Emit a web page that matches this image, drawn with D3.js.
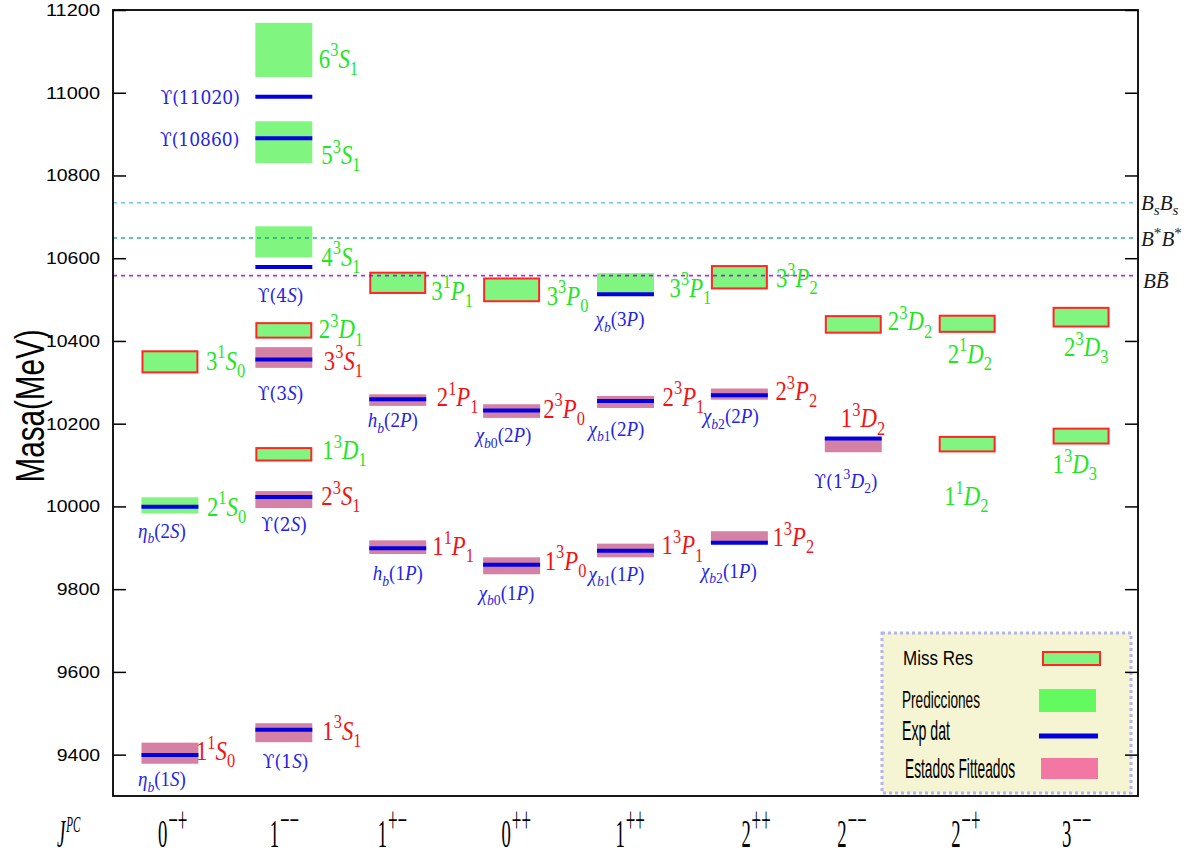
<!DOCTYPE html>
<html>
<head>
<meta charset="utf-8">
<script src="https://cdn.jsdelivr.net/npm/d3@7"></script>
<style>
  body { margin: 0; background: #fff; }
  svg { display: block; }
</style>
</head>
<body>
<svg id="chart" width="1203" height="858"></svg>
<script>
// ---- J^PC columns -------------------------------------------------------
const jpcBase = ["0", "1", "1", "0", "1", "2", "2", "2", "3"];
const jpcSup  = ["−+", "−−", "+−", "++", "++", "++", "−−", "−+", "−−"];
const jpcKeys = jpcBase.map((b, i) => b + jpcSup[i]);

// ---- mass axis ticks (MeV) -------------------------------------------------
const yTicks = [9400, 9600, 9800, 10000, 10200, 10400, 10600, 10800, 11000, 11200];

// ---- model predictions only (mass band, MeV) --------------------------------
const predictedStates = [
  { jpc: "0−+", name: "2^{1}S_{0}", lo: 9983,  hi: 10022 },
  { jpc: "1−−", name: "4^{3}S_{1}", lo: 10602, hi: 10677 },
  { jpc: "1−−", name: "5^{3}S_{1}", lo: 10830, hi: 10931 },
  { jpc: "1−−", name: "6^{3}S_{1}", lo: 11038, hi: 11169 },
  { jpc: "1++", name: "3^{3}P_{1}", lo: 10516, hi: 10564 }
];

// ---- missing resonances (predicted, not observed) ---------------------------
const missingStates = [
  { jpc: "0−+", name: "3^{1}S_{0}", lo: 10324, hi: 10375 },
  { jpc: "1−−", name: "2^{3}D_{1}", lo: 10408, hi: 10443 },
  { jpc: "1−−", name: "1^{3}D_{1}", lo: 10111, hi: 10141 },
  { jpc: "1+−", name: "3^{1}P_{1}", lo: 10516, hi: 10565 },
  { jpc: "0++", name: "3^{3}P_{0}", lo: 10496, hi: 10551 },
  { jpc: "2++", name: "3^{3}P_{2}", lo: 10527, hi: 10581 },
  { jpc: "2−−", name: "2^{3}D_{2}", lo: 10420, hi: 10460 },
  { jpc: "2−+", name: "2^{1}D_{2}", lo: 10422, hi: 10461 },
  { jpc: "2−+", name: "1^{1}D_{2}", lo: 10133, hi: 10168 },
  { jpc: "3−−", name: "2^{3}D_{3}", lo: 10435, hi: 10480 },
  { jpc: "3−−", name: "1^{3}D_{3}", lo: 10152, hi: 10188 }
];

// ---- states used in the fit ---------------------------------------------------
const fittedStates = [
  { jpc: "0−+", name: "1^{1}S_{0}", lo: 9378,  hi: 9429 },
  { jpc: "1−−", name: "1^{3}S_{1}", lo: 9430,  hi: 9476 },
  { jpc: "1−−", name: "2^{3}S_{1}", lo: 9996,  hi: 10037 },
  { jpc: "1−−", name: "3^{3}S_{1}", lo: 10335, hi: 10385 },
  { jpc: "1+−", name: "1^{1}P_{1}", lo: 9885,  hi: 9918 },
  { jpc: "1+−", name: "2^{1}P_{1}", lo: 10243, hi: 10271 },
  { jpc: "0++", name: "1^{3}P_{0}", lo: 9836,  hi: 9877 },
  { jpc: "0++", name: "2^{3}P_{0}", lo: 10214, hi: 10247 },
  { jpc: "1++", name: "1^{3}P_{1}", lo: 9877,  hi: 9910 },
  { jpc: "1++", name: "2^{3}P_{1}", lo: 10238, hi: 10267 },
  { jpc: "2++", name: "1^{3}P_{2}", lo: 9911,  hi: 9940 },
  { jpc: "2++", name: "2^{3}P_{2}", lo: 10258, hi: 10285 },
  { jpc: "2−−", name: "1^{3}D_{2}", lo: 10131, hi: 10164 }
];

// ---- experimental masses (MeV) ----------------------------------------------
const experimentalStates = [
  { jpc: "0−+", name: "η_{b}(1S)",     mass: 9399 },
  { jpc: "0−+", name: "η_{b}(2S)",     mass: 9999 },
  { jpc: "1−−", name: "ϒ(1S)",         mass: 9460 },
  { jpc: "1−−", name: "ϒ(2S)",         mass: 10023 },
  { jpc: "1−−", name: "ϒ(3S)",         mass: 10355 },
  { jpc: "1−−", name: "ϒ(4S)",         mass: 10579 },
  { jpc: "1−−", name: "ϒ(10860)",      mass: 10890 },
  { jpc: "1−−", name: "ϒ(11020)",      mass: 10990 },
  { jpc: "1+−", name: "h_{b}(1P)",     mass: 9899 },
  { jpc: "1+−", name: "h_{b}(2P)",     mass: 10259 },
  { jpc: "0++", name: "χ_{b0}(1P)",    mass: 9859 },
  { jpc: "0++", name: "χ_{b0}(2P)",    mass: 10232 },
  { jpc: "1++", name: "χ_{b1}(1P)",    mass: 9893 },
  { jpc: "1++", name: "χ_{b1}(2P)",    mass: 10255 },
  { jpc: "1++", name: "χ_{b}(3P)",     mass: 10513 },
  { jpc: "2++", name: "χ_{b2}(1P)",    mass: 9912 },
  { jpc: "2++", name: "χ_{b2}(2P)",    mass: 10269 },
  { jpc: "2−−", name: "ϒ(1^{3}D_{2})", mass: 10164 }
];

// ---- open-flavour thresholds (MeV) -------------------------------------------
const thresholds = [
  { name: "B_{s}B_{s}", mass: 10734 },
  { name: "B^{*}B^{*}", mass: 10649 },
  { name: "BB\u0304",   mass: 10558 }
];

const legendLabels = ["Miss Res", "Predicciones", "Exp dat", "Estados Fitteados"];

// ---- layout & style ---------------------------------------------------------
const plot = { left: 113, right: 1138, top: 10, bottom: 796 };
const colors = {
  green: "#80f580", greenLegend: "#63fa5f", pink: "#d580a5", pinkLegend: "#f277a2",
  red: "#ff2626", blue: "#0000e0",
  textGreen: "#22e622", textRed: "#f01414", textBlue: "#2424e6"
};
const thresholdColors = ["#56b4e9", "#009e73", "#9400d3"];

// label offsets (px) from the left edge of the column band and the mark centre
const stateLabelOffset = {
  "3^{1}S_{0}": [64.5, 8],   "2^{1}S_{0}": [65.5, 10.5], "1^{1}S_{0}": [54.5, 7],
  "6^{3}S_{1}": [63.5, 18],  "5^{3}S_{1}": [66, 22],     "4^{3}S_{1}": [66, 24],
  "2^{3}D_{1}": [63.5, 8],   "3^{3}S_{1}": [68.5, 12.5], "1^{3}D_{1}": [67, 5],
  "2^{3}S_{1}": [66, 5.5],   "1^{3}S_{1}": [67, 7],
  "3^{1}P_{1}": [62, 17],    "2^{1}P_{1}": [67.5, 6],    "1^{1}P_{1}": [63, 8],
  "3^{3}P_{0}": [63.5, 15],  "2^{3}P_{0}": [60, 7],      "1^{3}P_{0}": [61.5, 4],
  "3^{3}P_{1}": [72.5, 14],  "2^{3}P_{1}": [65.5, 4],    "1^{3}P_{1}": [64.5, 4],
  "3^{3}P_{2}": [65, 10],    "2^{3}P_{2}": [64.5, 6],    "1^{3}P_{2}": [61.5, 9],
  "2^{3}D_{2}": [63, 6],     "1^{3}D_{2}": [16, -18],
  "2^{1}D_{2}": [9, 39],     "1^{1}D_{2}": [5.5, 61],
  "2^{3}D_{3}": [11.5, 39],  "1^{3}D_{3}": [0, 37]
};
const expLabelOffset = {
  "η_{b}(1S)": [-3.5, 31], "η_{b}(2S)": [-3.5, 31],
  "ϒ(1S)": [7.5, 38], "ϒ(2S)": [6, 34], "ϒ(3S)": [2.5, 40], "ϒ(4S)": [2.5, 35],
  "ϒ(10860)": [-16, 8, "end"], "ϒ(11020)": [-15.5, 7, "end"],
  "h_{b}(1P)": [3.5, 32], "h_{b}(2P)": [-1.5, 28],
  "χ_{b0}(1P)": [-4.5, 35], "χ_{b0}(2P)": [-7.5, 32],
  "χ_{b1}(1P)": [-8.5, 30], "χ_{b1}(2P)": [-8.5, 35], "χ_{b}(3P)": [-1.5, 32],
  "χ_{b2}(1P)": [-10, 35], "χ_{b2}(2P)": [-8, 28],
  "ϒ(1^{3}D_{2})": [-10.5, 49]
};
const thresholdLabelDy = [7, 8.5, 12.5];
const jpcLabelDx = [-12, -14, -20, -10, -10, 2, -16, -16, -19];

// ---- scales -------------------------------------------------------------------
const x = d3.scaleBand().domain(jpcKeys)
  .range([plot.left, plot.right]).paddingInner(0.5).paddingOuter(0.25);
const y = d3.scaleLinear().domain([9300, 11200]).range([plot.bottom, plot.top]);

const svg = d3.select("#chart");
const serif = "'Liberation Serif', 'DejaVu Serif', serif";
const sans = "'Liberation Sans', Arial, sans-serif";

// Split a small TeX-like string ("3^{1}S_{0}") into styled runs.
function parseMath(str) {
  const runs = [];
  const push = (t, mode) => {
    const chars = [];
    for (const ch of t) {
      if (/[\u0300-\u036f]/.test(ch) && chars.length) chars[chars.length - 1] += ch;
      else chars.push(ch);
    }
    chars.forEach(ch => {
      const italic = /[A-Za-zηχ]/.test(ch[0]);
      const last = runs[runs.length - 1];
      if (last && last.mode === mode && last.italic === italic) last.t += ch;
      else runs.push({ t: ch, mode, italic });
    });
  };
  let i = 0;
  while (i < str.length) {
    const c = str[i];
    if (c === "^" || c === "_") {
      const mode = c === "^" ? "sup" : "sub";
      i++;
      if (str[i] === "{") {
        const j = str.indexOf("}", i);
        push(str.slice(i + 1, j), mode);
        i = j + 1;
      } else { push(str[i], mode); i++; }
    } else {
      let t = c; i++;
      while (i < str.length && /[\u0300-\u036f]/.test(str[i])) { t += str[i]; i++; }
      push(t, "base");
    }
  }
  return runs;
}

function mathText(parent, str, size, color, anchor) {
  const t = parent.append("text")
    .attr("font-family", serif).attr("font-size", size)
    .attr("fill", color).attr("text-anchor", anchor || "start");
  let cur = 0;
  parseMath(str).forEach(r => {
    const off = r.mode === "sup" ? -0.42 * size : r.mode === "sub" ? 0.26 * size : 0;
    const ts = t.append("tspan")
      .attr("dy", off - cur)
      .attr("font-size", r.mode === "base" ? size : size * 0.72)
      .attr("font-style", r.italic ? "italic" : "normal")
      .text(r.t);
    if (r.t.includes("ϒ")) ts.attr("font-family", "'DejaVu Serif', serif").attr("font-size", size * 0.9);
    cur = off;
  });
  return t;
}

// ---- legend panel (drawn first so the axis frame sits above it) -------------
const lg = svg.append("g");
lg.append("rect").attr("x", 882).attr("y", 633).attr("width", 249).attr("height", 160)
  .attr("fill", "#f5f5d3").attr("stroke", "#b4b4f0").attr("stroke-width", 3)
  .attr("stroke-dasharray", "3,3");
const legendText = [
  { x: 903, y: 665, size: 21, len: 70 },
  { x: 902, y: 708, size: 24, len: 78 },
  { x: 902, y: 740, size: 28, len: 48 },
  { x: 905, y: 778, size: 28, len: 110 }
];
legendLabels.forEach((lab, i) => {
  const s = legendText[i];
  lg.append("text").attr("x", s.x).attr("y", s.y)
    .attr("font-family", sans).attr("font-size", s.size)
    .attr("textLength", s.len).attr("lengthAdjust", "spacingAndGlyphs")
    .attr("fill", "#000").text(lab);
});
lg.append("rect").attr("x", 1043).attr("y", 652).attr("width", 57).attr("height", 13)
  .attr("fill", colors.green).attr("stroke", colors.red).attr("stroke-width", 2);
lg.append("rect").attr("x", 1039).attr("y", 689).attr("width", 57).attr("height", 23)
  .attr("fill", colors.greenLegend);
lg.append("line").attr("x1", 1039).attr("x2", 1098).attr("y1", 736).attr("y2", 736)
  .attr("stroke", colors.blue).attr("stroke-width", 5);
lg.append("rect").attr("x", 1041).attr("y", 758).attr("width", 57).attr("height", 21)
  .attr("fill", colors.pinkLegend);

// ---- level boxes --------------------------------------------------------------
const bw = x.bandwidth();
svg.append("g").selectAll("rect").data(predictedStates).join("rect")
  .attr("x", d => x(d.jpc)).attr("width", bw)
  .attr("y", d => y(d.hi)).attr("height", d => y(d.lo) - y(d.hi))
  .attr("fill", colors.green);

svg.append("g").selectAll("rect").data(missingStates).join("rect")
  .attr("x", d => x(d.jpc) + 1).attr("width", bw - 2)
  .attr("y", d => y(d.hi)).attr("height", d => y(d.lo) - y(d.hi))
  .attr("fill", colors.green).attr("stroke", colors.red).attr("stroke-width", 2);

svg.append("g").selectAll("rect").data(fittedStates).join("rect")
  .attr("x", d => x(d.jpc)).attr("width", bw)
  .attr("y", d => y(d.hi)).attr("height", d => y(d.lo) - y(d.hi))
  .attr("fill", colors.pink);

svg.append("g").selectAll("line").data(experimentalStates).join("line")
  .attr("x1", d => x(d.jpc)).attr("x2", d => x(d.jpc) + bw)
  .attr("y1", d => y(d.mass)).attr("y2", d => y(d.mass))
  .attr("stroke", colors.blue).attr("stroke-width", 4);

// ---- thresholds -----------------------------------------------------------------
svg.append("g").selectAll("line").data(thresholds).join("line")
  .attr("x1", plot.left).attr("x2", plot.right)
  .attr("y1", d => y(d.mass)).attr("y2", d => y(d.mass))
  .attr("stroke", (d, i) => thresholdColors[i]).attr("stroke-width", 1.6)
  .attr("stroke-dasharray", "4,4").attr("opacity", 0.8);

thresholds.forEach((d, i) => {
  const g = svg.append("g")
    .attr("transform", `translate(${plot.right + (i === 2 ? 5 : 3)},${y(d.mass) + thresholdLabelDy[i]})`);
  mathText(g, d.name, 21, "#1a1a1a");
});

// ---- state labels ----------------------------------------------------------------
function boxLabels(list, color) {
  list.forEach(d => {
    const [dx, dy] = stateLabelOffset[d.name];
    const g = svg.append("g")
      .attr("transform", `translate(${x(d.jpc) + dx},${y((d.lo + d.hi) / 2) + dy}) scale(0.95,1.15)`);
    mathText(g, d.name, 24, color);
  });
}
boxLabels(predictedStates, colors.textGreen);
boxLabels(missingStates, colors.textGreen);
boxLabels(fittedStates, colors.textRed);

experimentalStates.forEach(d => {
  const [dx, dy, anchor] = expLabelOffset[d.name];
  const g = svg.append("g")
    .attr("transform", `translate(${x(d.jpc) + dx},${y(d.mass) + dy}) scale(1,1.12)`);
  mathText(g, d.name, 19, colors.textBlue, anchor);
});

// ---- axes & frame ------------------------------------------------------------------
const yAxis = svg.append("g").attr("transform", `translate(${plot.left},0)`)
  .call(d3.axisLeft(y).tickValues(yTicks).tickSize(-13).tickPadding(13).tickFormat(d3.format("d")));
yAxis.select(".domain").remove();
yAxis.selectAll("line").attr("stroke", "#000").attr("stroke-width", 1.5);
yAxis.selectAll("text")
  .attr("font-family", sans).attr("font-size", 17).attr("fill", "#000")
  .attr("textLength", d => String(d).length * 10.8).attr("lengthAdjust", "spacingAndGlyphs");

const yAxisR = svg.append("g").attr("transform", `translate(${plot.right},0)`)
  .call(d3.axisRight(y).tickValues(yTicks).tickSize(-13).tickFormat(""));
yAxisR.select(".domain").remove();
yAxisR.selectAll("line").attr("stroke", "#000").attr("stroke-width", 1.5);

svg.append("rect")
  .attr("x", plot.left).attr("y", plot.top)
  .attr("width", plot.right - plot.left).attr("height", plot.bottom - plot.top)
  .attr("fill", "none").attr("stroke", "#000").attr("stroke-width", 1.8);

// axis title
svg.append("text")
  .attr("transform", `translate(44,406) rotate(-90)`)
  .attr("text-anchor", "middle").attr("font-family", sans).attr("font-size", 40)
  .attr("textLength", 153).attr("lengthAdjust", "spacingAndGlyphs")
  .attr("fill", "#000").text("Masa(MeV)");

// J^PC row
function jpcLabel(px, base, sup, italic, supSize) {
  const g = svg.append("g").attr("transform", `translate(${px},847) scale(0.85,1.8)`);
  const t = g.append("text").attr("font-family", serif).attr("font-size", 22).attr("fill", "#000");
  t.append("tspan").attr("font-style", italic ? "italic" : "normal").text(base);
  t.append("tspan").attr("dx", 1).attr("dy", -8.5).attr("font-size", supSize)
    .attr("font-style", italic ? "italic" : "normal").text(sup);
}
jpcLabel(57, "J", "PC", true, 13);
jpcKeys.forEach((k, i) => {
  jpcLabel(x(k) + bw / 2 + jpcLabelDx[i], jpcBase[i], jpcSup[i], false, 20);
});
</script>
</body>
</html>
